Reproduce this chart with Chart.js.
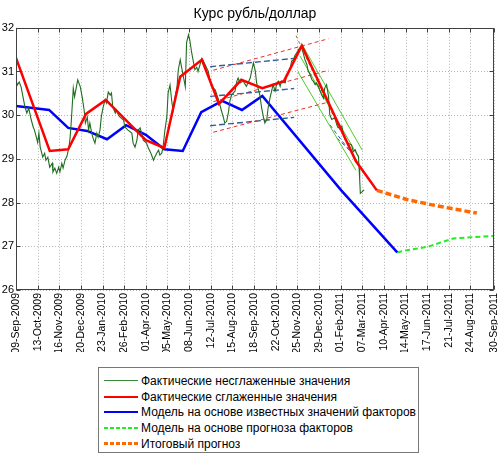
<!DOCTYPE html>
<html><head><meta charset="utf-8">
<script src="https://cdn.jsdelivr.net/npm/chart.js@4.4.0/dist/chart.umd.min.js"></script>
<style>
html,body{margin:0;padding:0;background:#fff;}
#wrap{position:relative;width:498px;height:454px;overflow:hidden;}
#c{position:absolute;left:0;top:0;}
#legend{position:absolute;left:98px;top:367px;width:321px;height:86px;border:1px solid #777;background:#fff;box-sizing:border-box;font-family:"Liberation Sans",Arial,sans-serif;font-size:12px;color:#000;}
.row{position:absolute;left:0;height:16px;line-height:16px;white-space:nowrap;}
.sw{position:absolute;left:5px;width:34px;}
.lbl{position:absolute;left:42px;top:0;}
</style></head>
<body>
<div id="wrap">
<canvas id="c" width="498" height="454"></canvas>
<div id="legend"></div>
</div>
<script>
// ---- axis ticks ----
const tickDays = [0,34,68,102,136,170,204,238,272,306,340,374,408,442,476,510,544,578,612,646,680,714,751];
const tickLabels = ['09-Sep-2009','13-Oct-2009','16-Nov-2009','20-Dec-2009','23-Jan-2010','26-Feb-2010','01-Apr-2010','05-May-2010','08-Jun-2010','12-Jul-2010','15-Aug-2010','18-Sep-2010','22-Oct-2010','25-Nov-2010','29-Dec-2010','01-Feb-2011','07-Mar-2011','10-Apr-2011','14-May-2011','17-Jun-2011','21-Jul-2011','24-Aug-2011','30-Sep-2011'];
const yTicks = [26,27,28,29,30,31,32];

// ---- series (x = days since 09-Sep-2009) ----
const rawDays = [0,2,5,8,11,14,17,20,24,27,29,31,34,36,38,40,42,45,47,50,53,57,58,61,64,67,69,72,74,77,80,83,85,87,90,92,94,97,101,104,107,109,112,114,116,119,121,124,127,129,132,134,137,140,142,145,148,150,152,156,158,161,163,169,171,176,182,184,187,190,192,195,198,200,205,208,211,213,216,218,221,224,226,229,231,234,237,239,242,245,247,250,253,255,258,260,263,266,268,271,273,276,279,281,284,286,289,292,294,297,302,307,313,318,323,326,328,331,334,336,339,344,347,349,352,357,362,368,373,376,378,381,383,386,389,391,394,396,399,402,404,407,410,412,415,417,423,425,428,431,433,436,438,441,444,446,449,451,454,457,459,462,465,467,470,472,475,478,480,483,485,488,491,493,496,501,504,506,512,514,517,522,527,530,533,535,538,539,540,541,544,547];
const rawValues = [30.81,30.69,30.76,30.65,30.42,30.19,30.05,30.16,29.89,29.73,29.66,29.55,29.38,29.59,29.27,29.16,29.04,29.13,28.97,29.04,28.81,28.90,28.70,28.79,28.67,28.81,28.70,28.90,28.79,28.97,29.06,29.25,29.48,29.89,30.62,30.42,30.58,30.81,30.65,30.42,30.12,29.82,29.96,29.66,29.82,29.59,29.48,29.36,29.59,29.50,29.66,29.96,30.19,30.35,30.28,30.53,30.46,30.51,30.19,30.05,30.12,30.00,29.96,29.89,29.73,29.66,29.59,29.36,29.27,29.43,29.66,29.71,29.55,29.43,29.36,29.25,29.16,29.09,28.97,29.04,29.13,29.20,29.09,29.13,29.27,29.66,29.96,30.51,30.69,30.28,30.12,30.42,30.65,31.04,31.27,31.11,30.88,30.65,31.66,31.84,31.72,31.43,31.20,31.04,31.10,31.00,31.15,31.30,31.25,31.16,31.01,30.66,30.58,30.36,30.09,29.94,29.82,29.86,30.09,30.32,30.47,30.55,30.78,30.85,30.74,30.78,30.66,30.85,31.20,31.01,30.74,30.58,30.47,30.16,29.94,29.82,29.90,30.16,30.39,30.58,30.70,30.55,30.74,30.78,30.66,30.78,30.74,30.93,30.97,31.08,31.24,31.27,31.36,31.43,31.50,31.54,31.54,31.43,31.27,31.16,31.01,30.93,30.81,30.78,30.70,30.74,30.66,30.55,30.47,30.39,30.62,30.70,30.43,30.01,29.90,29.94,29.78,29.71,29.75,29.59,29.44,29.36,29.32,29.17,29.21,29.13,29.06,28.79,28.52,28.21,28.25,28.29];

const smoothDays = [0,53,82,110,141,204,233,258,292,319,354,387,421,449,534,567];
const smoothValues = [31.31,29.18,29.22,30.03,30.35,29.43,29.25,30.88,31.27,30.26,30.81,30.62,30.78,31.59,28.95,28.28];

const modelDays = [0,52,82,112,143,173,204,233,262,291,324,355,387,511,599];
const modelValues = [30.21,30.12,29.71,29.64,29.45,29.77,29.55,29.22,29.18,30.07,30.33,30.12,30.44,28.28,26.86];

const factorDays = [599,614,647,687,718,751];
const factorValues = [26.86,26.91,26.99,27.18,27.21,27.24];

const finalDays = [567,614,650,682,724];
const finalValues = [28.28,28.07,27.96,27.87,27.76];

// ---- trend channel lines (start/end) ----
const redChannelDays = [310,491];
const redChannelUpper = [31.03,31.75];
const redChannelMiddle = [30.31,31.03];
const redChannelLower = [29.61,30.30];
const blueChannelDays = [305,437];
const blueChannelUpper = [31.11,31.30];
const blueChannelMiddle = [30.43,30.61];
const blueChannelLower = [29.76,29.95];
const downChannel1Days = [449,544], downChannel1Values = [31.63,29.20];
const downChannel2Days = [446,539], downChannel2Values = [31.36,29.02];
const downChannel3Days = [443,534], downChannel3Values = [30.99,28.74];
const oliveDays = [440,509], oliveValues = [31.82,29.66];
const downBlue1Days = [493,535], downBlue1Values = [29.78,28.98];
const downBlue2Days = [504,529], downBlue2Values = [29.48,29.13];

const pts = (xs, ys) => xs.map((d,i)=>({x:d, y:ys[i]}));
const line = (xs, ys, color, w, dash) => ({data:pts(xs,ys), borderColor:color, borderWidth:w, borderDash:dash||[], pointRadius:0, fill:false, tension:0});

const FONT = '"Liberation Sans", Arial, sans-serif';
Chart.defaults.font.family = FONT;
Chart.defaults.color = '#000';

const gridBox = {
  id:'gridBox',
  beforeDatasetsDraw(chart){
    const {ctx, chartArea:a, scales:{x,y}} = chart;
    ctx.save();
    ctx.strokeStyle = '#b4b4b4'; ctx.lineWidth = 1; ctx.setLineDash([1,2]);
    tickDays.forEach(d=>{const p=Math.round(x.getPixelForValue(d))+0.5; ctx.beginPath(); ctx.moveTo(p,a.top); ctx.lineTo(p,a.bottom); ctx.stroke();});
    yTicks.forEach(v=>{const p=Math.round(y.getPixelForValue(v))+0.5; ctx.beginPath(); ctx.moveTo(a.left,p); ctx.lineTo(a.right,p); ctx.stroke();});
    ctx.restore();
  },
  afterDatasetsDraw(chart){
    const {ctx, chartArea:a, scales:{x,y}} = chart;
    ctx.save();
    ctx.strokeStyle = '#404040'; ctx.lineWidth = 1; ctx.setLineDash([]);
    const L=Math.round(a.left)+0.5, R=Math.round(a.right)-0.5, T=Math.round(a.top)+0.5, B=Math.round(a.bottom)-0.5;
    ctx.strokeRect(L,T,R-L,B-T);
    const tl = 4;
    ctx.beginPath();
    tickDays.forEach(d=>{const p=Math.round(x.getPixelForValue(d))+0.5; ctx.moveTo(p,B); ctx.lineTo(p,B-tl); ctx.moveTo(p,T); ctx.lineTo(p,T+tl);});
    yTicks.forEach(v=>{const p=Math.round(y.getPixelForValue(v))+0.5; ctx.moveTo(L,p); ctx.lineTo(L+tl,p); ctx.moveTo(R,p); ctx.lineTo(R-tl,p);});
    ctx.stroke();
    ctx.restore();
  }
};

new Chart(document.getElementById('c'), {
  type:'line',
  data:{datasets:[
    line(smoothDays, smoothValues, '#ff0000', 2.5),
    line(finalDays, finalValues, '#ff6a00', 3.5, [6,3]),
    line(rawDays, rawValues, '#1f6d1f', 1.1),
    line(redChannelDays, redChannelUpper, '#e83030', 1, [4,3]),
    line(redChannelDays, redChannelMiddle, '#e83030', 1, [4,3]),
    line(redChannelDays, redChannelLower, '#e83030', 1, [4,3]),
    line(blueChannelDays, blueChannelUpper, '#2f5f9a', 1.4, [6,3]),
    line(blueChannelDays, blueChannelMiddle, '#2f5f9a', 1.4, [6,3]),
    line(blueChannelDays, blueChannelLower, '#2f5f9a', 1.4, [6,3]),
    line(downChannel1Days, downChannel1Values, '#4ccc2a', 1),
    line(downChannel2Days, downChannel2Values, '#4ccc2a', 1),
    line(downChannel3Days, downChannel3Values, '#4ccc2a', 1),
    line(oliveDays, oliveValues, '#8a7a30', 1, [3,3]),
    line(downBlue1Days, downBlue1Values, '#3050d0', 1, [4,3]),
    line(downBlue2Days, downBlue2Values, '#3050d0', 1, [4,3]),
    line(modelDays, modelValues, '#0000ff', 2.5),
    line(factorDays, factorValues, '#22ee22', 2, [5,3])
  ]},
  options:{
    responsive:false, animation:false, devicePixelRatio:1,
    layout:{padding:{top:0,right:4,bottom:102,left:0}},
    plugins:{
      legend:{display:false}, tooltip:{enabled:false},
      title:{display:true, text:'Курс рубль/доллар', fullSize:false, color:'#000', font:{size:14, weight:'normal', family:FONT}, padding:{top:6,bottom:5}}
    },
    scales:{
      x:{type:'linear', min:0, max:751,
        afterBuildTicks:s=>{ s.ticks = tickDays.map(v=>({value:v})); },
        afterFit:s=>{ s.height = 62; s.paddingLeft = 0; s.paddingRight = 0; },
        grid:{display:false, drawTicks:false}, border:{display:false},
        ticks:{autoSkip:false, minRotation:90, maxRotation:90, padding:3, color:'#000', font:{size:10.5, family:FONT}, callback:(v,i)=>tickLabels[i]}
      },
      y:{type:'linear', min:26, max:32,
        afterBuildTicks:s=>{ s.ticks = yTicks.map(v=>({value:v})); },
        afterFit:s=>{ s.width = 16; },
        grid:{display:false, drawTicks:false}, border:{display:false},
        ticks:{padding:2, color:'#000', font:{size:11, family:FONT}}
      }
    }
  },
  plugins:[gridBox]
});

// ---- legend (HTML, real text) ----
const legendItems = [
  {label:'Фактические несглаженные значения', color:'#3a8a3a', w:1, dash:null},
  {label:'Фактические сглаженные значения', color:'#ff0000', w:2, dash:null},
  {label:'Модель на основе известных значений факторов', color:'#0000ff', w:2, dash:null},
  {label:'Модель на основе прогноза факторов', color:'#22ee22', w:2, dash:[4,2]},
  {label:'Итоговый прогноз', color:'#ff6a00', w:3, dash:[4,2]}
];
const rowTops = [5,21,36,52,68];
const lg = document.getElementById('legend');
legendItems.forEach((it,i)=>{
  const r = document.createElement('div'); r.className='row'; r.style.top = rowTops[i]+'px'; r.style.width='100%';
  const s = document.createElement('div'); s.className='sw';
  s.style.top = (8 - Math.ceil(it.w/2))+'px'; s.style.height = it.w+'px';
  s.style.background = it.dash ? `repeating-linear-gradient(90deg, ${it.color} 0 ${it.dash[0]}px, transparent ${it.dash[0]}px ${it.dash[0]+it.dash[1]}px)` : it.color;
  const t = document.createElement('span'); t.className='lbl'; t.textContent = it.label;
  r.appendChild(s); r.appendChild(t); lg.appendChild(r);
});
</script>
</body></html>
